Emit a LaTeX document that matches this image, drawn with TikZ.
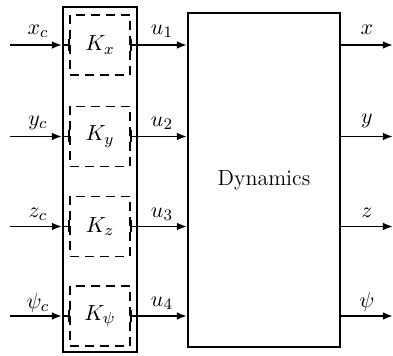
\documentclass[tikz,border=0pt]{standalone}
\usetikzlibrary{arrows.meta}
\begin{document}
\begin{tikzpicture}[x=0.5pt,y=-0.5pt,
  every node/.style={font=\fontsize{11}{13}\selectfont},
  outerbox/.style={draw,line width=1pt,minimum width=37pt,minimum height=172.5pt,inner sep=0pt},
  ctrlbox/.style={draw,dashed,dash pattern=on 4.5pt off 3pt,line width=0.9pt,minimum width=30pt,minimum height=30pt,inner sep=0pt},
  dynbox/.style={draw,line width=1pt,minimum width=76pt,minimum height=167pt,inner sep=0pt},
  sig/.style={line width=0.9pt},
  sigarrow/.style={line width=0.9pt,-{Latex[length=5pt,width=3.8pt]}},
  lbl/.style={inner sep=0pt}]
\useasboundingbox (0,0) rectangle (393,356);
\node[outerbox] (outer) at (100,179.5) {};
\node[ctrlbox] (kx) at (100,45) {$K_x$};
\node[ctrlbox] (ky) at (100,136.5) {$K_y$};
\node[ctrlbox] (kz) at (100,226.5) {$K_z$};
\node[ctrlbox] (kp) at (100,316) {$K_\psi$};
\node[dynbox] (dyn) at (264,180) {Dynamics};
\foreach \k/\y in {kx/45,ky/136.5,kz/226.5,kp/316}{
  \coordinate (in-\k) at (10,\y);
  \coordinate (out-\k) at (393,\y);
  \draw[sigarrow] (in-\k) -- (\k.west -| outer.west);
  \draw[sig] (\k.west -| outer.west) -- (\k.west);
  \draw[sig] ([yshift=3pt]\k.west) -- ([yshift=-3pt]\k.west);
  \draw[sig] ([yshift=3pt]\k.east) -- ([yshift=-3pt]\k.east);
  \draw[sigarrow] (\k.east) -- (\k.east -| dyn.west);
  \draw[sigarrow] (\k.east -| dyn.east) -- (out-\k);
}
\node[lbl] (lxc) at (38,31) {$x_c$};
\node[lbl] (lyc) at (38,123) {$y_c$};
\node[lbl] (lzc) at (38,214) {$z_c$};
\node[lbl] (lpc) at (38,303) {$\psi_c$};
\node[lbl] (lu1) at (162,31) {$u_1$};
\node[lbl] (lu2) at (162,123) {$u_2$};
\node[lbl] (lu3) at (162,214) {$u_3$};
\node[lbl] (lu4) at (162,303) {$u_4$};
\node[lbl] (lx) at (367,30) {$x$};
\node[lbl] (ly) at (367,121) {$y$};
\node[lbl] (lz) at (367,213) {$z$};
\node[lbl] (lp) at (367,302) {$\psi$};
\end{tikzpicture}
\end{document}
